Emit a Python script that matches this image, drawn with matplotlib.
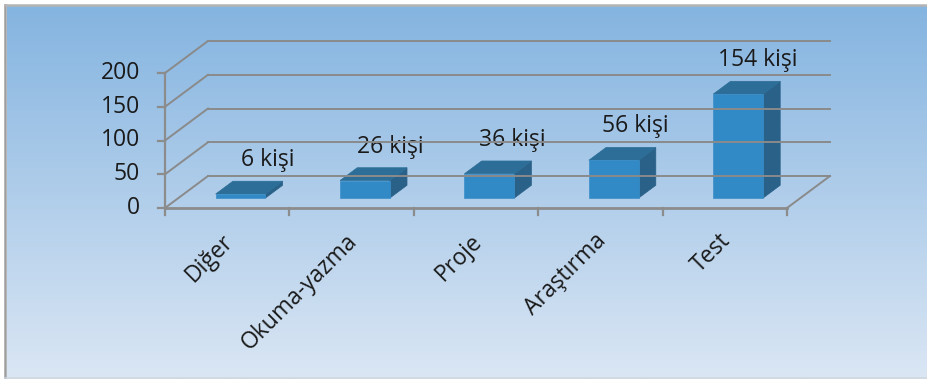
import numpy as np
import matplotlib
matplotlib.use("Agg")
import matplotlib.pyplot as plt
import matplotlib.transforms as mtransforms
from matplotlib.patches import Polygon
from matplotlib.lines import Line2D

categories = ["Diğer", "Okuma-yazma", "Proje", "Araştırma", "Test"]
values = [6, 26, 36, 56, 154]
labels = ["6 kişi", "26 kişi", "36 kişi", "56 kişi", "154 kişi"]
yticks = [0, 50, 100, 150, 200]

W, H, DPI = 928, 379, 100
fig = plt.figure(figsize=(W / DPI, H / DPI), dpi=DPI)
fig.patch.set_facecolor("white")
FONT = "Open Sans"
FS = 16.5

# background frame with gradient
bg = fig.add_axes([7 / W, 1 - 377 / H, (W - 7) / W, (377 - 6) / H])
bg.set_axis_off()
top_c = np.array([0x84, 0xB4, 0xE0]) / 255
bot_c = np.array([0xDA, 0xE6, 0xF4]) / 255
t = np.linspace(0, 1, 256)[:, None]
grad = top_c[None, :] * (1 - t) + bot_c[None, :] * t
bg.imshow(grad[:, None, :].repeat(2, axis=1), aspect="auto", extent=[0, 1, 0, 1])
bg.set_xlim(0, 1); bg.set_ylim(0, 1)
fig.add_artist(Line2D([5.5 / W, 5.5 / W], [0, 1 - 4.5 / H], color="#9E9E9E", lw=1.8))
fig.add_artist(Line2D([5.5 / W, 1], [1 - 4.5 / H, 1 - 4.5 / H], color="#B4B4B4", lw=1.8))
fig.add_artist(Line2D([5.5 / W, 1], [1 - 377.5 / H, 1 - 377.5 / H], color="#C8D2DC", lw=1.2))

# main axes = front plane
x0, x1 = 165, 787
y0, y1 = 208, 73
ax = fig.add_axes([x0 / W, 1 - y0 / H, (x1 - x0) / W, (y0 - y1) / H])
ax.set_xlim(-0.5, len(categories) - 0.5)
ax.set_ylim(0, 200)
ax.set_axis_off()
ax.patch.set_alpha(0)

DX, DY = 43, 32  # full depth offset in pixels

def depth_tr(d):
    return ax.transData + mtransforms.ScaledTranslation(DX * d / DPI, DY * d / DPI, fig.dpi_scale_trans)

grid_c = "#8A8A8A"
xl, xr = -0.5, len(categories) - 0.5

def seg(xa, ya, da, xb, yb, db, **kw):
    pa = depth_tr(da).transform((xa, ya))
    pb = depth_tr(db).transform((xb, yb))
    inv = fig.transFigure.inverted()
    fa = inv.transform(pa); fb = inv.transform(pb)
    fig.add_artist(Line2D([fa[0], fb[0]], [fa[1], fb[1]], **kw))

for v in yticks:
    seg(xl, v, 0, xl, v, 1, color=grid_c, lw=1.4, zorder=2)
    seg(xl, v, 1, xr, v, 1, color=grid_c, lw=1.4, zorder=2)
seg(xr, 0, 0, xr, 0, 1, color=grid_c, lw=1.4, zorder=2)
seg(xl, 0, 0, xr, 0, 0, color="#8C8C8C", lw=2.0, zorder=3)
seg(xl, 0, 0, xl, 200, 0, color="#8C8C8C", lw=1.6, zorder=3)

ytick_tr = ax.get_yaxis_transform()
for v in yticks:
    ax.plot([-0.012, 0], [v, v], transform=ytick_tr, color="#8C8C8C", lw=1.6, clip_on=False)
    ax.text(-0.04, v, str(v), transform=ytick_tr, ha="right", va="center",
            fontsize=FS, family=FONT, color="#1A1A1A")
xtick_tr = ax.get_xaxis_transform()
for i in range(len(categories) + 1):
    ax.plot([i - 0.5, i - 0.5], [0, -0.05], transform=xtick_tr, color="#8C8C8C", lw=1.6, clip_on=False)

for i, c in enumerate(categories):
    ax.text(i + 0.02, -0.22, c, transform=xtick_tr, rotation=45, rotation_mode="anchor",
            ha="right", va="center", fontsize=FS, family=FONT, color="#1A1A1A")

# bars
bw = 0.4
df, db = 0.31, 0.71
front_c, top_col, side_c = "#3189C6", "#2C6E98", "#2A6188"
inv = ax.transData.inverted()
def P(x, y, tr):
    return inv.transform(tr.transform((x, y)))
for i, v in enumerate(values):
    xa, xb = i - bw / 2, i + bw / 2
    trf = depth_tr(df)
    trb = depth_tr(db)
    fa = [P(xa, 0, trf), P(xb, 0, trf), P(xb, v, trf), P(xa, v, trf)]
    topf = [P(xa, v, trf), P(xb, v, trf), P(xb, v, trb), P(xa, v, trb)]
    side = [P(xb, 0, trf), P(xb, 0, trb), P(xb, v, trb), P(xb, v, trf)]
    ax.add_patch(Polygon(side, closed=True, facecolor=side_c, edgecolor=side_c, lw=0.5, zorder=5, clip_on=False))
    ax.add_patch(Polygon(topf, closed=True, facecolor=top_col, edgecolor=top_col, lw=0.5, zorder=5, clip_on=False))
    ax.add_patch(Polygon(fa, closed=True, facecolor=front_c, edgecolor="#3A8FCB", lw=0.5, zorder=6, clip_on=False))
    lab = P(i + 0.08 - 0.015 * i, v, trb)
    ax.annotate(labels[i], xy=lab, xytext=(0, 21), textcoords="offset pixels",
                ha="center", va="center", fontsize=FS, family=FONT, color="#1A1A1A",
                zorder=8, annotation_clip=False)

fig.savefig("out.png", dpi=DPI)
